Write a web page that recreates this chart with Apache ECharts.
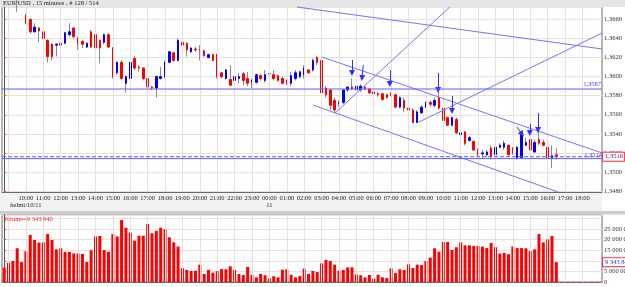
<!DOCTYPE html>
<html>
<head>
<meta charset="utf-8">
<script src="https://cdn.jsdelivr.net/npm/echarts@6/dist/echarts.min.js"></script>
<style>
  html, body { margin: 0; padding: 0; background: #fff; }
  #chart { width: 625px; height: 287px; }
</style>
</head>
<body>
<div id="chart"></div>
<script>
// EUR/USD, 15 minute bars, 128 bars from 08:45 to 16:30 next day
const opens = [
  1.3682,1.3686,1.3681,1.3684,1.3679,1.3664,1.3660,1.3647,1.3651,1.3647,
  1.3638,1.3634,1.3633,1.3635,1.3635,1.3644,1.3651,1.3640,1.3637,1.3631,
  1.3647,1.3644,1.3638,1.3636,1.3644,1.3630,1.3604,1.3615,1.3593,1.3598,
  1.3619,1.3610,1.3609,1.3598,1.3589,1.3588,1.3598,1.3600,1.3615,1.3625,
  1.3617,1.3636,1.3635,1.3626,1.3629,1.3628,1.3627,1.3620,1.3623,1.3623,
  1.3604,1.3598,1.3597,1.3596,1.3598,1.3603,1.3598,1.3594,1.3594,1.3601,
  1.3596,1.3603,1.3602,1.3601,1.3598,1.3596,1.3593,1.3598,1.3600,1.3602,
  1.3607,1.3607,1.3620,1.3617,1.3588,1.3586,1.3575,1.3572,1.3573,1.3586,
  1.3589,1.3586,1.3586,1.3589,1.3587,1.3584,1.3582,1.3582,1.3581,1.3582,
  1.3581,1.3568,1.3575,1.3567,1.3565,1.3552,1.3562,1.3568,1.3573,1.3570,
  1.3578,1.3567,1.3557,1.3549,1.3555,1.3539,1.3542,1.3533,1.3532,1.3523,
  1.3519,1.3518,1.3525,1.3518,1.3526,1.3526,1.3528,1.3525,1.3515,1.3515,
  1.3528,1.3534,1.3521,1.3534,1.3531,1.3526,1.3515,1.3518
];
const closes = [
  1.3686,1.3681,1.3684,1.3679,1.3682,1.3656,1.3647,1.3652,1.3648,1.3640,
  1.3621,1.3621,1.3634,1.3633,1.3646,1.3647,1.3642,1.3635,1.3634,1.3635,
  1.3631,1.3630,1.3630,1.3644,1.3631,1.3600,1.3615,1.3598,1.3600,1.3615,
  1.3609,1.3609,1.3598,1.3589,1.3588,1.3600,1.3600,1.3615,1.3626,1.3617,
  1.3638,1.3633,1.3628,1.3630,1.3628,1.3628,1.3622,1.3623,1.3617,1.3600,
  1.3600,1.3607,1.3591,1.3600,1.3600,1.3596,1.3593,1.3596,1.3602,1.3598,
  1.3602,1.3603,1.3598,1.3596,1.3593,1.3593,1.3601,1.3604,1.3605,1.3609,
  1.3604,1.3617,1.3615,1.3583,1.3581,1.3570,1.3565,1.3573,1.3586,1.3589,
  1.3587,1.3590,1.3590,1.3587,1.3583,1.3582,1.3581,1.3576,1.3578,1.3581,
  1.3568,1.3578,1.3567,1.3565,1.3552,1.3563,1.3568,1.3573,1.3571,1.3575,
  1.3567,1.3554,1.3549,1.3557,1.3541,1.3541,1.3530,1.3536,1.3523,1.3518,
  1.3520,1.3521,1.3516,1.3526,1.3528,1.3530,1.3518,1.3520,1.3526,1.3539,
  1.3531,1.3523,1.3531,1.3530,1.3528,1.3515,1.3517,1.3516
];
const highs = [
  1.3690,1.3689,1.3688,1.3687,1.3686,1.3666,1.3661,1.3656,1.3652,1.3648,
  1.3639,1.3635,1.3635,1.3637,1.3647,1.3656,1.3652,1.3642,1.3638,1.3636,
  1.3649,1.3645,1.3639,1.3645,1.3645,1.3631,1.3616,1.3617,1.3601,1.3616,
  1.3622,1.3612,1.3610,1.3600,1.3590,1.3601,1.3610,1.3617,1.3627,1.3626,
  1.3640,1.3638,1.3636,1.3631,1.3631,1.3633,1.3628,1.3624,1.3624,1.3624,
  1.3605,1.3608,1.3612,1.3601,1.3604,1.3605,1.3605,1.3598,1.3603,1.3603,
  1.3607,1.3606,1.3607,1.3602,1.3600,1.3597,1.3605,1.3607,1.3606,1.3612,
  1.3608,1.3619,1.3622,1.3620,1.3590,1.3587,1.3578,1.3575,1.3587,1.3590,
  1.3598,1.3591,1.3592,1.3590,1.3588,1.3585,1.3584,1.3583,1.3582,1.3584,
  1.3582,1.3579,1.3578,1.3569,1.3567,1.3565,1.3570,1.3574,1.3575,1.3578,
  1.3586,1.3569,1.3558,1.3558,1.3557,1.3543,1.3543,1.3538,1.3533,1.3525,
  1.3523,1.3523,1.3528,1.3533,1.3530,1.3533,1.3529,1.3526,1.3527,1.3541,
  1.3536,1.3536,1.3534,1.3546,1.3534,1.3537,1.3528,1.3525
];
const lows = [
  1.3679,1.3677,1.3678,1.3668,1.3676,1.3655,1.3645,1.3646,1.3636,1.3635,
  1.3615,1.3617,1.3621,1.3632,1.3634,1.3642,1.3640,1.3628,1.3630,1.3630,
  1.3630,1.3628,1.3614,1.3634,1.3630,1.3598,1.3602,1.3597,1.3583,1.3597,
  1.3607,1.3605,1.3596,1.3578,1.3586,1.3578,1.3597,1.3598,1.3614,1.3615,
  1.3616,1.3623,1.3621,1.3625,1.3626,1.3617,1.3621,1.3619,1.3616,1.3598,
  1.3598,1.3597,1.3590,1.3595,1.3593,1.3591,1.3590,1.3588,1.3593,1.3596,
  1.3594,1.3598,1.3596,1.3595,1.3592,1.3591,1.3590,1.3596,1.3598,1.3598,
  1.3603,1.3605,1.3612,1.3579,1.3578,1.3565,1.3562,1.3568,1.3571,1.3584,
  1.3586,1.3585,1.3584,1.3586,1.3582,1.3581,1.3579,1.3575,1.3577,1.3579,
  1.3567,1.3567,1.3563,1.3562,1.3551,1.3551,1.3561,1.3567,1.3569,1.3568,
  1.3565,1.3553,1.3548,1.3548,1.3540,1.3538,1.3528,1.3532,1.3522,1.3516,
  1.3515,1.3516,1.3513,1.3509,1.3525,1.3523,1.3517,1.3518,1.3513,1.3514,
  1.3527,1.3522,1.3520,1.3528,1.3527,1.3514,1.3504,1.3513
];
// volume in millions
const volumes = [
  6.8,9.1,9.9,15.9,9.4,14.5,22.2,19.8,18.6,18.7,
  22.6,19.8,15.4,15.9,14.2,14.2,13.5,13.5,13.2,9.4,
  15.0,21.5,21.7,15.1,14.3,22.6,21.5,29.2,25.6,23.3,
  19.5,21.8,21.8,27.4,23.0,24.1,25.6,24.9,21.1,18.7,
  16.7,6.5,5.7,5.2,5.3,8.2,3.8,5.7,4.4,5.2,
  6.1,6.0,7.4,5.7,3.8,3.3,7.1,3.4,2.2,3.8,
  3.2,1.7,2.7,2.2,5.8,6.0,3.4,2.2,2.8,6.3,
  3.8,5.2,4.7,8.8,10.4,9.9,8.2,5.3,5.7,6.9,
  6.9,3.6,3.2,2.2,3.3,1.6,3.4,2.2,1.9,6.5,
  4.2,6.0,5.7,8.3,6.6,8.2,8.0,9.9,11.5,15.9,
  14.3,18.9,18.9,15.1,16.4,18.7,17.3,17.3,17.0,17.0,
  16.7,16.0,18.4,16.4,13.4,13.7,13.1,16.8,16.0,16.0,
  15.9,14.6,15.4,22.6,18.7,20.1,21.7,9.34384
];

// drawn objects: [bar index, price] pairs
const trendLines = [
  [[67.35, 1.3673], [137.5, 1.3629]],
  [[76.1, 1.35618], [102.5, 1.3673]],
  [[94.95, 1.35514], [137.5, 1.36457]],
  [[73.1, 1.36206], [137.5, 1.35199]],
  [[71.0, 1.35702], [127.4, 1.3479]]
];
const arrows = [
  [[80.0, 1.36174], [80.0, 1.36038]],
  [[82.6, 1.36122], [82.3, 1.35985]],
  [[88.7, 1.36069], [88.7, 1.35923]],
  [[99.8, 1.36038], [99.8, 1.35860]],
  [[103.0, 1.35797], [103.0, 1.35640]],
  [[117.9, 1.35472], [119.1, 1.35398]],
  [[120.9, 1.35503], [120.9, 1.35409]],
  [[122.8, 1.35618], [122.8, 1.35441]]
];
const levelLine = 1.3587;
const stopLine = 1.3514;
const lastPrice = 1.3516;
const lastVolume = 9.34384;

const startMinutes = 8 * 60 + 45;
const slotCount = 138;
const categories = [];
for (let i = 0; i < slotCount; i++) {
  const m = (startMinutes + i * 15) % 1440;
  categories.push(String(Math.floor(m / 60)).padStart(2, '0') + ':' + String(m % 60).padStart(2, '0'));
}
const dayLabels = { 5: 'helmi/10/11', 61: '11' };
const showTime = (i) => categories[i].endsWith(':00') && i >= 5 && i <= 133;
const hourIdx = categories.map((c, i) => i).filter((i) => categories[i].endsWith(':00') && i <= 133);

const fmtPrice = (v) => v.toFixed(4).replace('.', ',');
const fmtVol = (v) => String(Math.round(v * 1e6)).replace(/\B(?=(\d{3})+(?!\d))/g, ' ');

const FONT = 'Liberation Sans Narrow';
const gridColor = '#ebdede';
const lineBlue = '#7474ff';
const levelBlue = '#5c5cff';

const chart = echarts.init(document.getElementById('chart'));

const hourLines = hourIdx.map((i) => ({ xAxis: i }));
const xEnds = [-0.5, slotCount - 0.5];

// horizontal level as a plain two point line
const levelSeries = (v, dashed) => ({
  type: 'line', xAxisIndex: 2, yAxisIndex: 0, z: 5, silent: true,
  symbol: 'none', animation: false,
  data: xEnds.map((x) => [x, v]),
  lineStyle: { color: levelBlue, width: 1, type: dashed ? [4, 2] : 'solid' },
  itemStyle: { color: levelBlue }
});

chart.setOption({
  animation: false,
  backgroundColor: '#ffffff',
  textStyle: { fontFamily: FONT },
  graphic: [
    { type: 'rect', shape: { x: 0, y: 0, width: 625, height: 7 }, style: { fill: '#e6e6e6' } },
    { type: 'text', left: 3, top: 0, style: { text: 'EUR/USD , 15 minutes , # 128 / 514', fill: '#222', font: '6.5px "Liberation Sans Narrow"' } },
    { type: 'rect', shape: { x: 0, y: 192.5, width: 602, height: 18.5 }, style: { fill: '#f2f2f2' } },
    { type: 'rect', shape: { x: 0, y: 211, width: 625, height: 3.5 }, style: { fill: '#cdcdcd' } },
    { type: 'text', left: 3, top: 216, z: 10, style: { text: 'Volume=9 343 840', fill: '#ff2020', font: '6.5px "Liberation Sans Narrow"' } }
  ],
  grid: [
    { left: 2, right: 23, top: 7, height: 185, show: true, backgroundColor: '#fff', borderColor: '#6a6a6a', borderWidth: 1, outerBoundsMode: 'none' },
    { left: 2, right: 23, top: 215, height: 67, show: true, backgroundColor: '#fff', borderColor: '#6a6a6a', borderWidth: 1, outerBoundsMode: 'none' }
  ],
  xAxis: [
    {
      type: 'category', gridIndex: 0, data: categories, boundaryGap: true,
      axisLine: { lineStyle: { color: '#6a6a6a' } },
      axisTick: { show: false },
      splitLine: { show: false },
      axisLabel: {
        interval: (i) => showTime(i),
        showMinLabel: true, hideOverlap: false,
        fontSize: 6.5, color: '#222', margin: 3, fontFamily: FONT
      }
    },
    {
      type: 'category', gridIndex: 1, data: categories, boundaryGap: true,
      axisLine: { lineStyle: { color: '#6a6a6a' } },
      axisTick: { show: false }, axisLabel: { show: false }, splitLine: { show: false }
    },
    { type: 'value', gridIndex: 0, min: -0.5, max: slotCount - 0.5, show: false },
    { type: 'value', gridIndex: 1, min: -0.5, max: slotCount - 0.5, show: false },
    {
      // day row under the time labels
      type: 'category', gridIndex: 0, data: categories, boundaryGap: true, position: 'bottom', offset: 7,
      axisLine: { show: false }, axisTick: { show: false }, splitLine: { show: false },
      axisLabel: {
        interval: (i) => dayLabels[i] !== undefined,
        formatter: (v, i) => dayLabels[i] || '',
        showMinLabel: true, hideOverlap: false,
        fontSize: 6.5, color: '#222', margin: 3, fontFamily: FONT
      }
    }
  ],
  yAxis: [
    {
      type: 'value', gridIndex: 0, position: 'right', min: 1.3479, max: 1.3673, splitNumber: 10,
      axisLine: { show: true, lineStyle: { color: '#555' } },
      axisTick: { show: true, length: 2, lineStyle: { color: '#ff4040' } },
      splitLine: { lineStyle: { color: gridColor } },
      axisLabel: { formatter: fmtPrice, fontSize: 6.5, color: '#333', margin: 2, showMinLabel: false, showMaxLabel: false, fontFamily: FONT }
    },
    {
      type: 'value', gridIndex: 1, position: 'right', min: 0, max: 31.6, interval: 5,
      axisLine: { show: true, lineStyle: { color: '#555' } },
      axisTick: { show: true, length: 2, lineStyle: { color: '#ff4040' } },
      splitLine: { lineStyle: { color: gridColor } },
      axisLabel: { formatter: (v) => (v > 26 ? '' : fmtVol(v)), fontSize: 6.5, color: '#333', margin: 2, showMaxLabel: false, fontFamily: FONT }
    }
  ],
  series: [
    {
      // hour grid lines, main panel
      type: 'line', xAxisIndex: 2, yAxisIndex: 0, data: [], z: 1, silent: true,
      markLine: { silent: true, precision: 6, symbol: ['none', 'none'], label: { show: false },
        lineStyle: { color: gridColor, type: 'solid', width: 1 }, data: hourLines }
    },
    {
      // hour grid lines, volume panel
      type: 'line', xAxisIndex: 3, yAxisIndex: 1, data: [], z: 1, silent: true,
      markLine: { silent: true, precision: 6, symbol: ['none', 'none'], label: { show: false },
        lineStyle: { color: gridColor, type: 'solid', width: 1 }, data: hourLines.concat([
          [{ coord: [127.2, 0], lineStyle: { color: '#ff5050', type: [3, 3], width: 1 } }, { coord: [slotCount - 0.5, 0] }]
        ]) }
    },
    {
      // wicks
      type: 'candlestick', xAxisIndex: 0, yAxisIndex: 0, z: 3, barWidth: 1,
      data: opens.map((o, i) => [o, closes[i], lows[i], highs[i]]),
      itemStyle: { color: '#8a8a8a', color0: '#8a8a8a', borderColor: '#8a8a8a', borderColor0: '#8a8a8a', borderWidth: 1 }
    },
    {
      // bodies
      type: 'candlestick', xAxisIndex: 0, yAxisIndex: 0, z: 4, barWidth: 2,
      data: opens.map((o, i) => [o, closes[i], Math.min(o, closes[i]), Math.max(o, closes[i])]),
      itemStyle: { color: '#0000ff', color0: '#ff0000', borderColor: '#0000ff', borderColor0: '#ff0000', borderWidth: 1 }
    },
    levelSeries(levelLine, false),
    levelSeries(stopLine, false),
    levelSeries(lastPrice, true),
    {
      // drawn objects and level tags
      type: 'line', xAxisIndex: 2, yAxisIndex: 0, data: [], z: 5, silent: true,
      markLine: {
        silent: true, precision: 6, symbol: ['none', 'none'],
        label: { show: false },
        lineStyle: { color: lineBlue, type: 'solid', width: 1 },
        data: [
          { yAxis: levelLine, lineStyle: { color: 'rgba(0,0,0,0)', width: 0 }, label: { show: true, position: 'insideEndTop', formatter: fmtPrice(levelLine), color: '#3a3aff', fontSize: 6.5, fontFamily: FONT, distance: 1 } },
          { yAxis: stopLine, lineStyle: { color: 'rgba(0,0,0,0)', width: 0 }, label: { show: true, position: 'insideEndTop', formatter: fmtPrice(stopLine), color: '#3a3aff', fontSize: 6.5, fontFamily: FONT, distance: 0 } },
          { yAxis: lastPrice, lineStyle: { color: 'rgba(0,0,0,0)', width: 0 }, label: { show: true, position: 'end', formatter: fmtPrice(lastPrice), color: '#2a2aa0', fontSize: 6.5, fontFamily: FONT, distance: 1, borderColor: '#ff3030', borderWidth: 1, backgroundColor: '#fff', padding: [1, 1, 0, 2] } }
        ].concat(trendLines.map((l) => [{ coord: l[0] }, { coord: l[1] }]))
      }
    },
    {
      // arrows
      type: 'line', xAxisIndex: 2, yAxisIndex: 0, data: [], z: 6, silent: true,
      markLine: {
        silent: true, precision: 6, symbol: ['none', 'triangle'], symbolSize: [6, 6],
        label: { show: false },
        lineStyle: { color: '#3030ff', type: 'solid', width: 1 },
        itemStyle: { color: '#1010ff' },
        data: arrows.map((a) => [{ coord: a[0] }, { coord: a[1] }])
      }
    },
    {
      type: 'bar', xAxisIndex: 1, yAxisIndex: 1, z: 3, barWidth: 3,
      data: volumes,
      itemStyle: { color: '#ff0000' }
    },
    {
      // last volume tag on the axis
      type: 'line', xAxisIndex: 3, yAxisIndex: 1, data: [], z: 6, silent: true,
      markLine: {
        silent: true, precision: 6, symbol: ['none', 'none'],
        lineStyle: { color: 'rgba(0,0,0,0)', width: 0 },
        data: [{ yAxis: lastVolume, label: { show: true, position: 'end', formatter: fmtVol(lastVolume), color: '#2a2aff', fontSize: 6.5, fontFamily: FONT, distance: 1, borderColor: '#ff3030', borderWidth: 1, backgroundColor: '#fff', padding: [1, 1, 0, 2] } }]
      }
    }
  ]
});
</script>
</body>
</html>
